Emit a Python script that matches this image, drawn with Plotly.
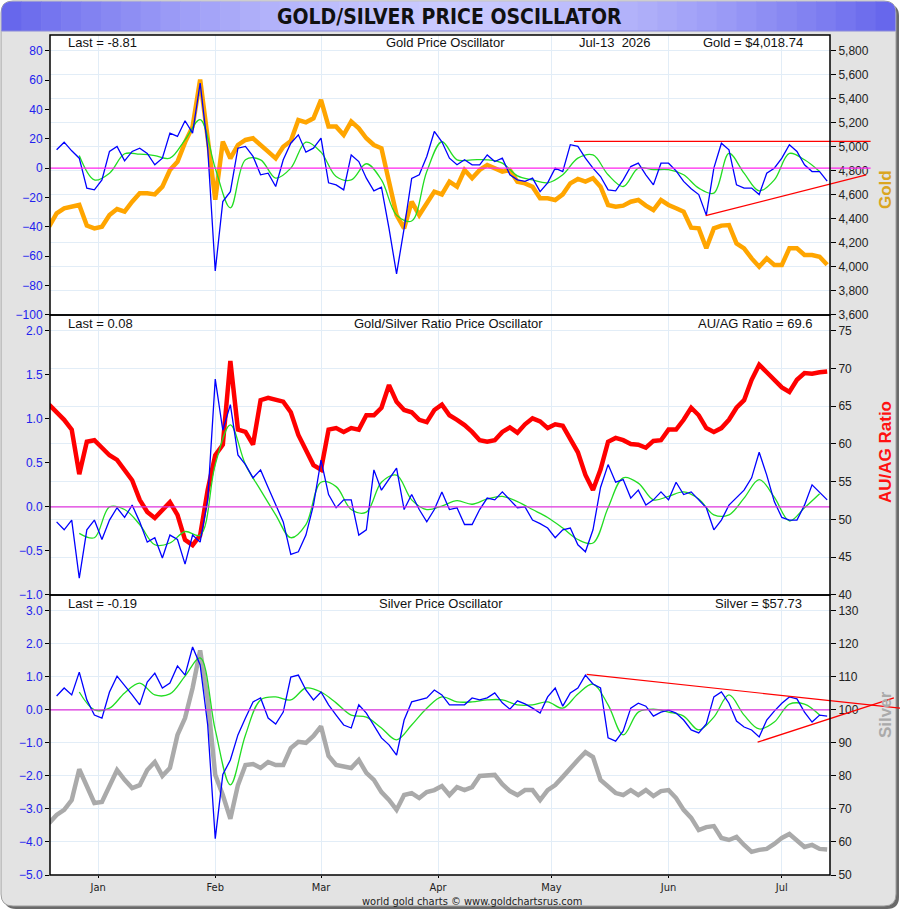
import plotly.graph_objects as go
import pandas as pd

# ---------------- data ----------------
dates = pd.date_range("2025-12-19", periods=104, freq="2D")
signal_dates = pd.date_range("2025-12-19", periods=52, freq="4D")

gold_price = [4335, 4446, 4488, 4502, 4516, 4344, 4321, 4335, 4432, 4482,
              4460, 4543, 4613, 4613, 4604, 4668, 4807, 4876, 5037, 5168,
              5560, 5071, 4560, 5043, 4904, 5015, 5057, 5071, 5021, 4960,
              4904, 5001, 5049, 5223, 5204, 5237, 5390, 5168, 5168, 5099,
              5210, 5154, 5071, 5015, 4988, 4724, 4432, 4321, 4543, 4432,
              4530, 4627, 4604, 4710, 4668, 4807, 4738, 4807, 4849, 4821,
              4793, 4807, 4710, 4696, 4668, 4571, 4571, 4557, 4604, 4696,
              4732, 4710, 4738, 4668, 4516, 4502, 4510, 4543, 4557, 4510,
              4474, 4557, 4516, 4488, 4460, 4327, 4321, 4155, 4321, 4344,
              4349, 4196, 4155, 4071, 4002, 4071, 4016, 4016, 4155, 4155,
              4099, 4099, 4085, 4018.74]

gold_osc = [None, 12.5, 17.7, 11.8, 6.8, -13.6, -14.8, -8.0, 11.4, 14.8,
            5.0, 11.4, 13.6, 10.0, 2.3, 6.8, 23.9, 21.6, 32.3, 23.9,
            58.0, 13.6, -70.0, -22.7, -16.0, 13.6, 14.8, 8.0, -4.5, -3.4,
            -12.5, 5.7, 17.0, 22.7, 10.9, 13.6, 20.5, -10.0, -11.4, -14.8,
            9.0, 4.5, -6.8, -15.5, -13.0, -41.0, -72.0, -41.0, -7.0, -4.5,
            8.0, 25.0, 18.0, 6.8, 2.3, 5.7, 2.3, 2.3, 9.0, 4.5,
            6.8, -4.5, -8.0, -9.0, -6.8, -16.0, -10.0, 0.0, -2.3, 16.0,
            14.8, 6.8, 0.0, -5.7, -14.8, -15.5, -8.0, 1.1, 3.4, -4.5,
            -11.4, 3.4, 3.4, -1.8, -9.0, -14.0, -18.0, -32.0, 0.0, 17.0,
            12.5, -11.4, -13.6, -13.6, -18.0, -3.4, 0.0, 6.8, 16.0, 11.4,
            2.3, -2.3, -2.3, -8.81]

gold_signal = [None, None, 8.6, -8.0, -3.4, 9.8, 9.5, 8.6, 6.8, 19.3,
               33.0, 0.0, -27.0, 5.7, 5.7, -6.8, 0.0, 17.7, 10.9, -5.7,
               -8.0, 3.0, -8.0, -32.0, -36.0, -2.3, 18.0, 5.7, 5.7, 5.7,
               3.4, -5.2, -8.0, -10.0, -4.5, 6.8, 9.0, -4.5, -12.5, 0.0,
               -1.0, -1.0, -4.5, -13.6, -17.0, 10.0, -3.4, -15.5, -8.0, 10.0,
               5.7, -2.3]

ratio_price = [65.2, 64.2, 63.2, 61.9, 56.0, 60.3, 60.5, 59.5, 58.5, 57.9,
               56.6, 55.2, 52.6, 51.0, 50.2, 51.3, 52.3, 50.6, 47.3, 46.6,
               47.9, 53.9, 58.5, 59.9, 71.0, 61.9, 61.6, 59.9, 65.8, 66.1,
               65.8, 65.6, 64.2, 61.2, 59.2, 57.2, 56.6, 61.9, 62.1, 61.6,
               62.1, 61.9, 63.8, 63.8, 64.8, 67.8, 65.6, 64.5, 64.2, 63.2,
               62.9, 64.5, 65.2, 63.8, 63.2, 62.5, 61.6, 60.5, 60.3, 60.5,
               61.6, 62.2, 61.5, 62.6, 63.4, 63.0, 62.1, 62.6, 62.4, 60.5,
               58.9, 55.9, 53.9, 56.6, 60.3, 60.8, 60.5, 60.0, 59.9, 59.5,
               60.4, 60.5, 61.9, 61.9, 63.2, 64.8, 63.8, 62.1, 61.6, 62.1,
               63.2, 64.8, 65.8, 68.5, 70.5, 69.5, 68.5, 67.5, 66.9, 68.5,
               69.4, 69.3, 69.5, 69.6]

ratio_osc = [None, -0.17, -0.26, -0.15, -0.81, -0.26, -0.15, -0.37, -0.15, -0.01,
             -0.12, 0.02, -0.17, -0.40, -0.35, -0.58, -0.32, -0.37, -0.65, -0.32,
             -0.40, 0.08, 1.45, 0.87, 1.16, 0.59, 0.48, 0.33, 0.42, 0.22,
             0.02, -0.17, -0.54, -0.51, -0.32, 0.02, 0.53, 0.14, -0.01, 0.08,
             0.08, -0.32, -0.26, 0.42, 0.19, 0.31, 0.44, -0.03, 0.14, -0.03,
             -0.17, -0.03, 0.17, -0.03, -0.01, -0.20, -0.20, -0.03, 0.10, 0.08,
             0.17, 0.08, -0.01, 0.00, -0.15, -0.19, -0.24, -0.35, -0.26, -0.24,
             -0.43, -0.51, -0.26, 0.22, 0.48, 0.28, 0.31, 0.10, 0.19, 0.02,
             0.08, 0.17, 0.08, 0.28, 0.14, 0.17, 0.08, -0.01, -0.26, -0.15,
             0.02, 0.10, 0.19, 0.33, 0.62, 0.36, 0.06, -0.12, -0.15, -0.15,
             0.02, 0.25, 0.17, 0.08]

ratio_signal = [None, None, -0.30, -0.35, 0.00, -0.03, -0.20, -0.43, -0.41, -0.28,
                -0.32, 0.48, 0.93, 0.48, 0.19, -0.09, -0.35, -0.20, 0.28, 0.23,
                -0.03, -0.06, 0.28, 0.36, 0.08, -0.03, 0.01, 0.07, 0.03, 0.09,
                0.12, 0.06, -0.03, -0.12, -0.24, -0.37, -0.41, -0.01, 0.33, 0.27,
                0.08, 0.12, 0.17, 0.09, -0.09, -0.09, 0.10, 0.31, 0.11, -0.16,
                -0.01, 0.15]

silver_price = [65.7, 68.2, 69.7, 72.7, 82.0, 77.2, 71.8, 72.1, 77.2, 81.8,
                78.8, 76.3, 77.2, 81.8, 84.2, 80.0, 82.4, 92.4, 97.5, 106.6,
                118.0, 103.0, 80.3, 74.2, 67.0, 77.2, 83.3, 83.6, 82.4, 84.2,
                83.3, 83.3, 88.4, 90.3, 90.0, 92.1, 95.0, 86.0, 83.3, 83.0,
                82.4, 84.8, 80.9, 78.8, 75.1, 72.7, 69.7, 74.2, 74.8, 73.3,
                75.1, 75.7, 76.9, 74.2, 76.6, 75.7, 76.6, 80.0, 80.3, 80.3,
                77.5, 75.4, 74.2, 75.7, 75.7, 72.7, 75.7, 77.2, 79.7, 82.4,
                84.8, 87.2, 85.7, 78.8, 76.6, 74.8, 74.2, 75.7, 74.2, 75.7,
                73.9, 75.4, 75.7, 73.3, 69.7, 67.3, 63.6, 64.5, 64.8, 61.2,
                60.6, 61.5, 59.1, 57.0, 57.6, 57.9, 59.4, 61.2, 62.4, 60.6,
                58.5, 59.1, 57.9, 57.73]

silver_osc = [None, 0.42, 0.66, 0.45, 1.14, 0.30, -0.16, -0.25, 0.54, 1.02,
              0.75, 0.45, 0.15, 0.84, 1.11, 0.66, 0.81, 1.33, 1.05, 1.90,
              1.36, -0.46, -3.90, -1.96, -1.52, -0.76, -0.25, 0.24, 0.36, -0.25,
              -0.43, -0.07, 0.99, 1.05, 0.60, 0.30, 0.54, 0.15, -0.16, -0.46,
              -0.55, 0.15, -0.10, -0.46, -0.85, -1.06, -1.37, -0.31, 0.24, 0.30,
              0.36, 0.60, 0.45, 0.15, 0.15, 0.15, 0.36, 0.30, 0.36, 0.51,
              0.21, 0.02, 0.27, 0.18, 0.05, -0.10, 0.39, 0.66, 0.11, 0.51,
              0.66, 1.05, 0.78, 0.66, -0.85, -0.95, -0.64, 0.05, 0.20, 0.11,
              -0.19, -0.07, -0.01, -0.10, -0.31, -0.61, -0.70, -0.43, 0.39, 0.54,
              0.20, -0.34, -0.52, -0.61, -0.82, -0.31, -0.04, 0.20, 0.39, 0.33,
              -0.07, -0.37, -0.16, -0.19]

silver_signal = [None, None, 0.54, 0.00, 0.05, 0.51, 0.81, 0.45, 0.48, 1.02,
                 1.57, -0.61, -2.27, -0.76, 0.30, 0.39, 0.30, 0.66, 0.54, 0.21,
                 -0.16, -0.22, -0.55, -0.91, -0.46, 0.05, 0.39, 0.24, 0.24, 0.30,
                 0.30, 0.15, 0.15, 0.24, 0.05, 0.48, 0.78, 0.15, -0.76, -0.07,
                 0.02, -0.07, -0.19, -0.61, -0.22, 0.45, -0.16, -0.58, -0.37, 0.17,
                 0.17, -0.16]

month_ticks = ["2026-01-01", "2026-02-01", "2026-03-01", "2026-04-01",
               "2026-05-01", "2026-06-01", "2026-07-01"]
month_labels = ["Jan", "Feb", "Mar", "Apr", "May", "Jun", "Jul"]

gold_ticks = [3600, 3800, 4000, 4200, 4400, 4600, 4800, 5000, 5200, 5400, 5600, 5800]
gold_osc_ticks = [-100, -80, -60, -40, -20, 0, 20, 40, 60, 80]
ratio_ticks = [40, 45, 50, 55, 60, 65, 70, 75]
ratio_osc_ticks = [-1.0, -0.5, 0.0, 0.5, 1.0, 1.5, 2.0]
silver_ticks = [50, 60, 70, 80, 90, 100, 110, 120, 130]
silver_osc_ticks = [-5.0, -4.0, -3.0, -2.0, -1.0, 0.0, 1.0, 2.0, 3.0]

# trend lines: (dates, oscillator values)
gold_resistance = (["2026-05-07 00:00", "2026-07-24 12:00"], [18.3, 18.3])
gold_support = (["2026-06-10 20:00", "2026-07-23 08:00"], [-32.3, -4.6])
silver_resistance = (["2026-05-10 08:00", "2026-08-01 08:00"], [1.07, 0.05])
silver_support = (["2026-06-24 14:00", "2026-07-30 16:00"], [-0.98, 0.36])

# ---------------- layout geometry ----------------
W, H = 900, 910
ML, MR, MT, MB = 50, 70, 35, 35
PW, PH = W - ML - MR, H - MT - MB
X0 = pd.Timestamp("2025-12-19 06:00")
X1 = pd.Timestamp("2026-07-13 18:00")


def px(x):
    return (x - ML) / PW


def py(y):
    return (H - MB - y) / PH


def xpaper(d):
    return (pd.Timestamp(d) - X0) / (X1 - X0)


NARROW = "Liberation Sans Narrow, Arial Narrow, DejaVu Sans Condensed, sans-serif"
SANS = "Liberation Sans, Arial, sans-serif"
GRID = "#e2edf7"
BLUE = "#0000ff"
GREEN = "#22dd22"
MAGENTA = "#ff22ee"

fig = go.Figure()

panels = [
    # (price, osc, signal, price colour, price axis, osc axis, x axis)
    (silver_price, silver_osc, silver_signal, "#aaaaaa", "y", "y2", "x"),
    (ratio_price, ratio_osc, ratio_signal, "#ff0000", "y3", "y4", "x2"),
    (gold_price, gold_osc, gold_signal, "#ffa500", "y5", "y6", "x3"),
]
for price, osc, sig, col, pax, oax, xax in panels:
    fig.add_trace(go.Scatter(x=dates, y=price, mode="lines", xaxis=xax, yaxis=pax,
                             line=dict(color=col, width=4.5), hoverinfo="skip"))
    fig.add_trace(go.Scatter(x=signal_dates, y=sig, mode="lines", xaxis=xax, yaxis=oax,
                             line=dict(color=GREEN, width=1.3, shape="spline"), hoverinfo="skip"))
    fig.add_trace(go.Scatter(x=dates, y=osc, mode="lines", xaxis=xax, yaxis=oax,
                             line=dict(color=BLUE, width=1.3), hoverinfo="skip"))

doms = [[0, 1 / 3], [1 / 3, 2 / 3], [2 / 3, 1]]
xr = [X0.strftime("%Y-%m-%d %H:%M"), X1.strftime("%Y-%m-%d %H:%M")]


def xaxis(anchor, labels):
    return dict(domain=[0, 1], anchor=anchor, range=xr, tickmode="array",
                tickvals=month_ticks, ticktext=month_labels, showticklabels=labels,
                showgrid=True, gridcolor=GRID, gridwidth=1, zeroline=False,
                showline=False, ticks="outside" if labels else "", ticklen=2,
                tickcolor="#000", tickfont=dict(family=NARROW, size=11, color="#222"))


def price_axis(dom, anchor, rng, ticks, fmt):
    return dict(domain=dom, anchor=anchor, side="right", range=rng, tickmode="array",
                tickvals=ticks, tickformat=fmt, showgrid=True, gridcolor=GRID,
                zeroline=False, showline=False, ticks="outside", ticklen=5,
                tickcolor="#000", tickfont=dict(family=SANS, size=12, color="#222"))


def osc_axis(over, anchor, rng, ticks, fmt):
    return dict(overlaying=over, anchor=anchor, side="left", range=rng, tickmode="array",
                tickvals=ticks, tickformat=fmt, showgrid=False, zeroline=False,
                showline=False, ticks="outside", ticklen=4, tickcolor="#000",
                tickfont=dict(family=SANS, size=12, color="#2222ee"))


fig.update_layout(
    xaxis=xaxis("y", True),
    xaxis2=xaxis("y3", False),
    xaxis3=xaxis("y5", False),
    yaxis=price_axis(doms[0], "x", [49.999, 134.75], silver_ticks, "d"),
    yaxis2=osc_axis("y", "x", [-5.0001, 3.475], silver_osc_ticks, ".1f"),
    yaxis3=price_axis(doms[1], "x2", [39.999, 77.08], ratio_ticks, "d"),
    yaxis4=osc_axis("y3", "x2", [-1.0001, 2.178], ratio_osc_ticks, ".1f"),
    yaxis5=price_axis(doms[2], "x3", [3599.9, 5930.7], gold_ticks, ",d"),
    yaxis6=osc_axis("y5", "x3", [-100.01, 90.7], gold_osc_ticks, "d"),
)

# ---------------- decorations ----------------
shapes = []


def rrect_path(x0, y0, x1, y1, r):
    pts = [("M", (x0 + r, y0)), ("L", (x1 - r, y0)), ("Q", (x1, y0), (x1, y0 + r)),
           ("L", (x1, y1 - r)), ("Q", (x1, y1), (x1 - r, y1)), ("L", (x0 + r, y1)),
           ("Q", (x0, y1), (x0, y1 - r)), ("L", (x0, y0 + r)), ("Q", (x0, y0), (x0 + r, y0))]
    s = ""
    for item in pts:
        s += item[0] + " " + " ".join(f"{px(p[0]):.5f},{py(p[1]):.5f}" for p in item[1:]) + " "
    return s + "Z"


shapes.append(dict(type="path", xref="paper", yref="paper", layer="below",
                   path=rrect_path(4, 4, 899, 909, 12), fillcolor="#6a6a6a", line=dict(width=0)))
shapes.append(dict(type="path", xref="paper", yref="paper", layer="below",
                   path=rrect_path(1, 1, 896, 906, 12), fillcolor="#e3e3e3",
                   line=dict(color="#a0a0a0", width=1)))

# title bar gradient stripes
n = 45
tx0, tx1, ty0, ty1 = 1.5, 895.5, 1.5, 31.0
edge = (100, 100, 236)
centre = (202, 202, 255)
for i in range(n):
    a = tx0 + (tx1 - tx0) * i / n
    b = tx0 + (tx1 - tx0) * (i + 1) / n + 0.6
    t = abs(2 * (i + 0.5) / n - 1) ** 1.6
    c = tuple(int(centre[k] + (edge[k] - centre[k]) * t) for k in range(3))
    col = f"rgb({c[0]},{c[1]},{c[2]})"
    if i == 0:
        r = 11
        path = (f"M {px(a):.5f},{py(ty1):.5f} L {px(a):.5f},{py(ty0 + r):.5f} "
                f"Q {px(a):.5f},{py(ty0):.5f} {px(a + r):.5f},{py(ty0):.5f} "
                f"L {px(b):.5f},{py(ty0):.5f} L {px(b):.5f},{py(ty1):.5f} Z")
        shapes.append(dict(type="path", xref="paper", yref="paper", layer="below",
                           path=path, fillcolor=col, line=dict(width=0)))
    elif i == n - 1:
        r = 11
        b = tx1
        path = (f"M {px(a):.5f},{py(ty1):.5f} L {px(a):.5f},{py(ty0):.5f} "
                f"L {px(b - r):.5f},{py(ty0):.5f} Q {px(b):.5f},{py(ty0):.5f} {px(b):.5f},{py(ty0 + r):.5f} "
                f"L {px(b):.5f},{py(ty1):.5f} Z")
        shapes.append(dict(type="path", xref="paper", yref="paper", layer="below",
                           path=path, fillcolor=col, line=dict(width=0)))
    else:
        shapes.append(dict(type="rect", xref="paper", yref="paper", layer="below",
                           x0=px(a), x1=px(b), y0=py(ty1), y1=py(ty0),
                           fillcolor=col, line=dict(width=0)))
shapes.append(dict(type="line", xref="paper", yref="paper", layer="below",
                   x0=px(tx0), x1=px(tx1), y0=py(ty1), y1=py(ty1),
                   line=dict(color="#8a8ad8", width=1)))

# white plot area
shapes.append(dict(type="rect", xref="paper", yref="paper", layer="below",
                   x0=0, x1=1, y0=0, y1=1, fillcolor="white", line=dict(width=0)))

# zero lines
shapes.append(dict(type="line", xref="paper", yref="y6", x0=0, x1=xpaper(gold_resistance[0][1]),
                   y0=0, y1=0, line=dict(color=MAGENTA, width=1.3)))
shapes.append(dict(type="line", xref="paper", yref="y4", x0=0, x1=1,
                   y0=0, y1=0, line=dict(color="#dd33dd", width=1.2)))
shapes.append(dict(type="line", xref="paper", yref="y2", x0=0, x1=1,
                   y0=0, y1=0, line=dict(color="#dd33dd", width=1.2)))

# trend lines
for (ds, vs), ax in [(gold_resistance, "y6"), (gold_support, "y6"),
                     (silver_resistance, "y2"), (silver_support, "y2")]:
    shapes.append(dict(type="line", xref="paper", yref=ax,
                       x0=xpaper(ds[0]), x1=xpaper(ds[1]), y0=vs[0], y1=vs[1],
                       line=dict(color="#ff0000", width=1.2)))

# panel borders
for d in doms:
    shapes.append(dict(type="rect", xref="paper", yref="paper", x0=0, x1=1, y0=d[0], y1=d[1],
                       line=dict(color="#000", width=1.5), fillcolor="rgba(0,0,0,0)"))

fig.update_layout(shapes=shapes)

# ---------------- text ----------------
ann = []


def text(t, x, y, xanchor="center", size=13, color="#111", family=SANS, angle=0):
    ann.append(dict(text=t, x=px(x), y=py(y), xref="paper", yref="paper",
                    xanchor=xanchor, yanchor="middle", showarrow=False, textangle=angle,
                    font=dict(family=family, size=size, color=color)))


text("<b>GOLD/SILVER PRICE OSCILLATOR</b>", 450, 17, size=21, family=NARROW, color="#111")

text(f"Last = {gold_osc[-1]:.2f}", 66, 43, "left")
text("Gold Price Oscillator", 445, 43)
text("Jul-13\u00a0 2026", 615, 43)
text(f"Gold = ${gold_price[-1]:,.2f}", 805, 43, "right")

text(f"Last = {ratio_osc[-1]:.2f}", 66, 323, "left")
text("Gold/Silver Ratio Price Oscillator", 449, 323)
text(f"AU/AG Ratio = {ratio_price[-1]:.1f}", 815, 323, "right")

text(f"Last = {silver_osc[-1]:.2f}", 66, 603, "left")
text("Silver Price Oscillator", 441, 603)
text(f"Silver = ${silver_price[-1]:.2f}", 804, 603, "right")

text("<b>Gold</b>", 885, 190, size=17, color="#daa520", angle=-90)
text("<b>AU/AG Ratio</b>", 885, 452, size=17, color="#ff1111", angle=-90)
text("<b>Silver</b>", 885, 715, size=17, color="#aaaaaa", angle=-90)

text("world gold charts \u00a9 www.goldchartsrus.com", 472, 902, size=11, family=NARROW, color="#222")

fig.update_layout(
    annotations=ann,
    width=W, height=H,
    margin=dict(l=ML, r=MR, t=MT, b=MB, pad=0),
    paper_bgcolor="white", plot_bgcolor="rgba(0,0,0,0)",
    showlegend=False,
)

fig.write_html("out.html")
